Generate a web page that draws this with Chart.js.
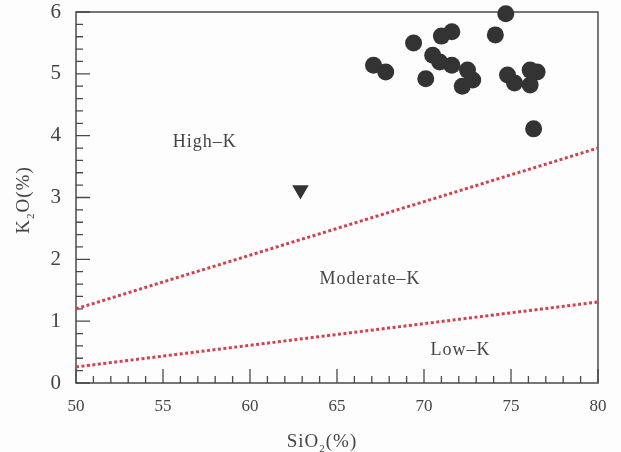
<!DOCTYPE html>
<html>
<head>
<meta charset="utf-8">
<script src="https://cdn.jsdelivr.net/npm/chart.js@4.4.1/dist/chart.umd.min.js"></script>
<style>
  html, body { margin: 0; padding: 0; background: #fdfdfd; }
  #wrap { width: 621px; height: 452px; }
</style>
</head>
<body>
<div id="wrap"><canvas id="k2oChart" width="621" height="452"></canvas></div>
<script>
// samples (circles)
const sio2 = [67.1, 67.8, 69.4, 70.1, 70.5, 70.9, 71.0, 71.6, 71.6, 72.5, 72.8, 72.2, 74.1, 74.7, 74.8, 75.2, 76.1, 76.5, 76.1, 76.3];
const k2o = [5.14, 5.03, 5.50, 4.92, 5.30, 5.19, 5.61, 5.68, 5.14, 5.06, 4.90, 4.80, 5.63, 5.97, 4.98, 4.85, 5.06, 5.03, 4.82, 4.11];

// single triangle sample
const triSio2 = [62.9];
const triK2o = [3.12];

// series boundaries
const highMedX = [50, 80];
const highMedY = [1.2, 3.8];
const medLowX = [50, 80];
const medLowY = [0.26, 1.31];

// field labels
const fieldNames = ["High–K", "Moderate–K", "Low–K"];
const fieldX = [57.4, 66.9, 72.1];
const fieldY = [3.9, 1.67, 0.53];

const xTicks = [50, 55, 60, 65, 70, 75, 80];
const yTicks = [0, 1, 2, 3, 4, 5, 6];

const toPts = (xs, ys) => xs.map((x, i) => ({ x, y: ys[i] }));

const axisColor = "#4a4a4a";
const textColor = "#444";
const serif = "'Liberation Serif', 'DejaVu Serif', serif";

const decorPlugin = {
  id: "decor",
  beforeDatasetsDraw(chart) {
    const { ctx, chartArea: a, scales } = chart;
    ctx.save();
    ctx.setLineDash([]);
    ctx.strokeStyle = axisColor;
    ctx.lineWidth = 1.5;
    ctx.strokeRect(a.left, a.top, a.right - a.left, a.bottom - a.top);
    // inward ticks, bottom and left
    ctx.lineWidth = 1.3;
    ctx.beginPath();
    for (let v = 50; v <= 80; v++) {
      const px = scales.x.getPixelForValue(v);
      const len = v % 5 === 0 ? 14 : 7;
      ctx.moveTo(px, a.bottom);
      ctx.lineTo(px, a.bottom - len);
    }
    for (let i = 0; i <= 30; i++) {
      const py = scales.y.getPixelForValue(i * 0.2);
      const len = i % 5 === 0 ? 14 : 7;
      ctx.moveTo(a.left, py);
      ctx.lineTo(a.left + len, py);
    }
    ctx.stroke();
    // field names
    ctx.fillStyle = textColor;
    ctx.font = "18px " + serif;
    ctx.letterSpacing = "1px";
    ctx.textAlign = "center";
    ctx.textBaseline = "middle";
    fieldNames.forEach((n, i) => {
      ctx.fillText(n, scales.x.getPixelForValue(fieldX[i]), scales.y.getPixelForValue(fieldY[i]));
    });
    ctx.restore();
  },
  afterDraw(chart) {
    const { ctx } = chart;
    ctx.save();
    ctx.fillStyle = textColor;
    ctx.textAlign = "left";
    ctx.textBaseline = "alphabetic";
    ctx.letterSpacing = "1px";
    // text with a subscripted part
    const drawSub = (parts, cx, cy) => {
      const big = "19px " + serif, small = "11px " + serif;
      let w = 0;
      parts.forEach(p => { ctx.font = p.sub ? small : big; w += ctx.measureText(p.t).width; });
      let x = cx - w / 2;
      parts.forEach(p => {
        ctx.font = p.sub ? small : big;
        ctx.fillText(p.t, x, p.sub ? cy + 5 : cy);
        x += ctx.measureText(p.t).width;
      });
    };
    drawSub([{ t: "SiO" }, { t: "2", sub: true }, { t: "(%)" }], 322, 447);
    ctx.translate(29, 200);
    ctx.rotate(-Math.PI / 2);
    drawSub([{ t: "K" }, { t: "2", sub: true }, { t: "O(%)" }], 0, 0);
    ctx.restore();
  }
};

new Chart(document.getElementById("k2oChart"), {
  type: "scatter",
  data: {
    datasets: [
      {
        label: "samples",
        data: toPts(sio2, k2o),
        pointStyle: "circle",
        pointRadius: 8.5,
        pointBackgroundColor: "#333",
        pointBorderWidth: 0,
        clip: false
      },
      {
        label: "triangle",
        data: toPts(triSio2, triK2o),
        pointStyle: "triangle",
        rotation: 180,
        pointRadius: 9.5,
        pointBackgroundColor: "#333",
        pointBorderWidth: 0
      },
      {
        label: "high-medium",
        type: "line",
        data: toPts(highMedX, highMedY),
        borderColor: "#d6404c",
        borderWidth: 3,
        borderDash: [3, 2.5],
        pointRadius: 0,
        fill: false
      },
      {
        label: "medium-low",
        type: "line",
        data: toPts(medLowX, medLowY),
        borderColor: "#d6404c",
        borderWidth: 3,
        borderDash: [3, 2.5],
        pointRadius: 0,
        fill: false
      }
    ]
  },
  options: {
    responsive: false,
    animation: false,
    devicePixelRatio: 1,
    layout: { padding: { top: 12, right: 23, left: 0, bottom: 0 } },
    plugins: { legend: { display: false }, tooltip: { enabled: false } },
    scales: {
      x: {
        type: "linear",
        min: 50,
        max: 80,
        afterBuildTicks: (s) => { s.ticks = xTicks.map(v => ({ value: v })); },
        afterFit: (s) => { s.height = 69; s.paddingLeft = 0; s.paddingRight = 0; },
        ticks: { color: textColor, font: { family: serif, size: 17 }, padding: 13, maxRotation: 0 },
        grid: { display: false, drawTicks: false },
        border: { display: false }
      },
      y: {
        type: "linear",
        min: 0,
        max: 6,
        afterBuildTicks: (s) => { s.ticks = yTicks.map(v => ({ value: v })); },
        afterFit: (s) => { s.width = 76; s.paddingTop = 0; s.paddingBottom = 0; },
        ticks: { color: textColor, font: { family: serif, size: 21 }, padding: 15 },
        grid: { display: false, drawTicks: false },
        border: { display: false }
      }
    }
  },
  plugins: [decorPlugin]
});
</script>
</body>
</html>
